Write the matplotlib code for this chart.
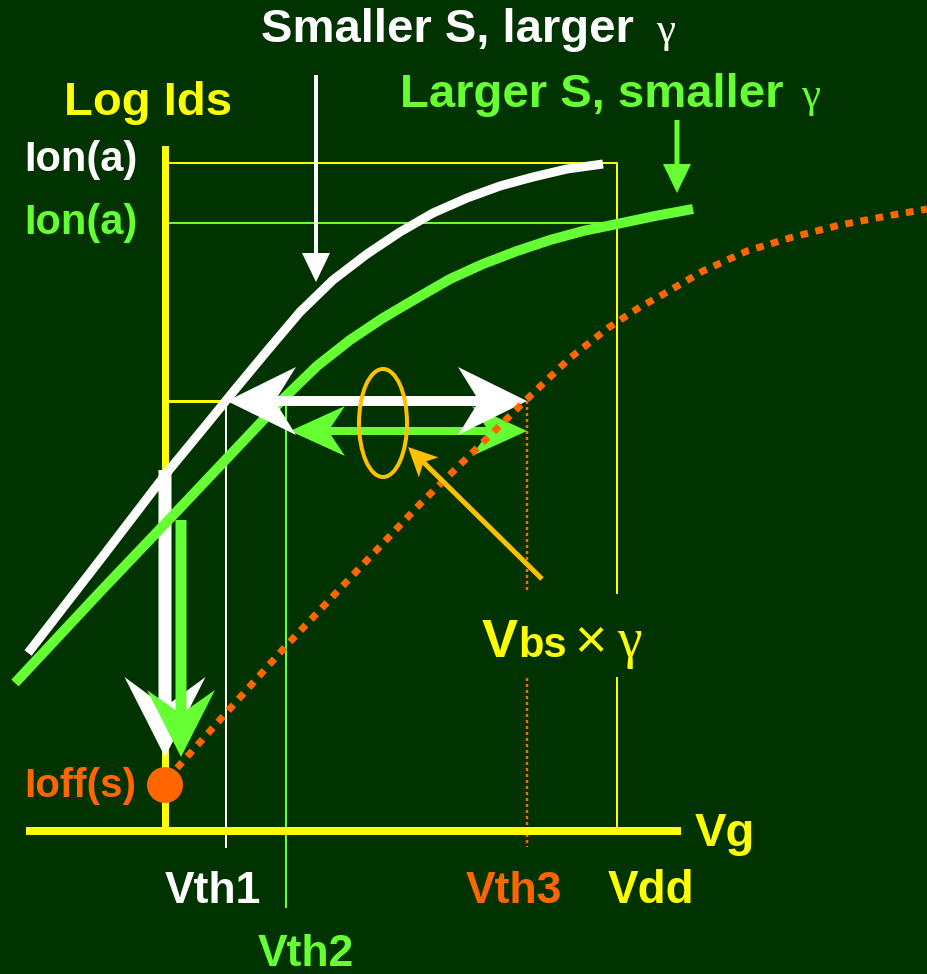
import matplotlib.pyplot as plt
import numpy as np
from matplotlib.patches import Polygon, Ellipse, Circle

# schematic coordinates (pixel space of the slide, y grows downward)
white_x = [28, 100, 165, 207, 233, 267, 300, 333, 367, 400, 433, 467, 500, 533, 567, 603]
white_y = [653, 560, 475, 424, 392, 351, 312, 280, 254, 232, 213, 198, 186, 177, 169, 164]
green_x = [15, 100, 180, 250, 283, 317, 350, 383, 417, 450, 483, 517, 550, 583, 617, 655, 693]
green_y = [683, 592, 508, 434, 399, 366, 340, 318, 298, 279, 264, 251, 240, 231, 224, 216, 209]
orange_x = [177, 285, 422, 526, 570, 608, 640, 662, 703, 747, 793, 840, 887, 927]
orange_y = [768, 647, 502, 400, 358, 328, 307, 295, 271, 251, 237, 225, 216, 209]

origin = (165, 831)
ion_white, ion_green = 163, 223
vth_level, vth2_level = 401, 431
vth1, vth2, vth3, vdd = 226, 286, 527, 617
ioff = 785

BG = '#003300'
GREEN = '#66ff33'
YELLOW = '#ffff00'
ORANGE = '#ff6600'
GOLD = '#ffc000'
PX = 0.72  # pixels -> points at dpi 100


def arrow(ax, tail, tip, shaft, head_w, head_len, notch, color, both=False, z=4):
    p0 = np.array(tail, float)
    p1 = np.array(tip, float)
    L = np.hypot(*(p1 - p0))
    u = (p1 - p0) / L
    n = np.array([-u[1], u[0]])
    pt = lambda a, b: p0 + u * a + n * b
    w, h = shaft / 2, head_w / 2
    head = [pt(L - head_len + notch, w), pt(L - head_len, h), pt(L, 0),
            pt(L - head_len, -h), pt(L - head_len + notch, -w)]
    if both:
        pts = [pt(head_len - notch, w)] + head + [pt(head_len - notch, -w), pt(head_len, -h),
                                                  pt(0, 0), pt(head_len, h)]
    else:
        pts = [pt(0, w)] + head + [pt(0, -w)]
    ax.add_patch(Polygon(pts, closed=True, fc=color, ec='none', zorder=z))


fig = plt.figure(figsize=(9.27, 9.74), dpi=100, facecolor=BG)
ax = fig.add_axes([0, 0, 1, 1])
ax.set_facecolor(BG)
ax.set_xlim(0, 927)
ax.set_ylim(974, 0)
ax.axis('off')

# axes of the diagram
ax.plot([origin[0], origin[0]], [149, origin[1]], color=YELLOW, lw=7 * PX, zorder=2)
ax.plot([30, 677], [origin[1], origin[1]], color=YELLOW, lw=8 * PX, zorder=2)

# reference lines
ax.plot([origin[0], vdd, vdd], [ion_white, ion_white, 593], color=YELLOW, lw=2 * PX, zorder=1)
ax.plot([vdd, vdd], [678, origin[1]], color=YELLOW, lw=2 * PX, zorder=1)
ax.plot([origin[0], vdd], [ion_green, ion_green], color=GREEN, lw=2 * PX, zorder=1)
ax.plot([origin[0], vth1], [vth_level, vth_level], color=YELLOW, lw=3 * PX, zorder=1)
ax.plot([vth1, vth1], [vth_level, 847], color='white', lw=2 * PX, zorder=1)
ax.plot([vth2, vth2], [vth_level, 907], color=GREEN, lw=2 * PX, zorder=1)
for y0, y1 in [(vth_level, 593), (678, 847)]:
    ax.plot([vth3, vth3], [y0, y1], color=ORANGE, lw=2.5 * PX, ls=(0, (1.2, 1.2)), zorder=1)

# vertical arrows down to Ioff
arrow(ax, (origin[0], 470), (origin[0], 757), 13, 81, 80, 25, 'white', z=3)
ax.plot(green_x, green_y, color=GREEN, lw=10 * PX, solid_capstyle='butt',
        solid_joinstyle='round', zorder=3.5)
ax.plot(white_x, white_y, color='white', lw=9 * PX, solid_capstyle='butt',
        solid_joinstyle='round', zorder=3.5)
arrow(ax, (181, 520), (181, 757), 11, 68, 67, 20, GREEN, z=3.6)

# horizontal double arrows
arrow(ax, (290, vth2_level), (vth3, vth2_level), 8, 50, 55, 14, GREEN, both=True, z=4)
arrow(ax, (vth1 + 1, vth_level), (vth3, vth_level), 10, 68, 69, 18, 'white', both=True, z=4.1)

# orange curve and Ioff point
ax.plot(orange_x, orange_y, color=ORANGE, lw=7 * PX, ls=(0, (1.1, 1.1)), zorder=5)
ax.add_patch(Circle((origin[0], ioff), 18, fc=ORANGE, ec='none', zorder=6))

# body effect ellipse and pointer
ax.add_patch(Ellipse((383, 423), 48, 108, fill=False, ec=GOLD, lw=4 * PX, zorder=5))
arrow(ax, (542, 579), (408, 447), 5, 28, 29, 6, GOLD, z=5)

# label pointers
arrow(ax, (316, 75), (316, 282), 4, 28, 29, 0, 'white', z=5)
arrow(ax, (677, 120), (677, 193), 5, 28, 29, 0, GREEN, z=5)

# text
bold = dict(family=['Liberation Sans', 'DejaVu Sans'], weight='bold', ha='left', va='baseline')
greek = dict(family=['Liberation Serif', 'DejaVu Serif'], ha='left', va='baseline')
ax.text(261, 42, 'Smaller S, larger', color='white', fontsize=34, **bold)
ax.text(656, 42, 'γ', color='white', fontsize=31, **greek)
ax.text(400, 107, 'Larger S, smaller', color=GREEN, fontsize=34, **bold)
ax.text(801, 107, 'γ', color=GREEN, fontsize=31, **greek)
ax.text(64, 115, 'Log Ids', color=YELLOW, fontsize=34, **bold)
ax.text(24, 171, 'Ion(a)', color='white', fontsize=30, **bold)
ax.text(24, 234, 'Ion(a)', color=GREEN, fontsize=30, **bold)
ax.text(24, 797, 'Ioff(s)', color=ORANGE, fontsize=29, **bold)
ax.text(695, 846, 'Vg', color=YELLOW, fontsize=34, **bold)
ax.text(165, 903, 'Vth1', color='white', fontsize=32, **bold)
ax.text(258, 966, 'Vth2', color=GREEN, fontsize=32, **bold)
ax.text(466, 903, 'Vth3', color=ORANGE, fontsize=32, **bold)
ax.text(608, 903, 'Vdd', color=YELLOW, fontsize=33, **bold)
ax.text(482, 657, 'V', color=YELLOW, fontsize=39, **bold)
ax.text(518, 657, 'bs', color=YELLOW, fontsize=30, **bold)
ax.text(574, 657, '×', color=YELLOW, fontsize=40, family=['Liberation Sans', 'DejaVu Sans'],
        ha='left', va='baseline')
ax.text(617, 657, 'γ', color=YELLOW, fontsize=40, **greek)

fig.savefig('out.png', dpi=100, facecolor=BG)
